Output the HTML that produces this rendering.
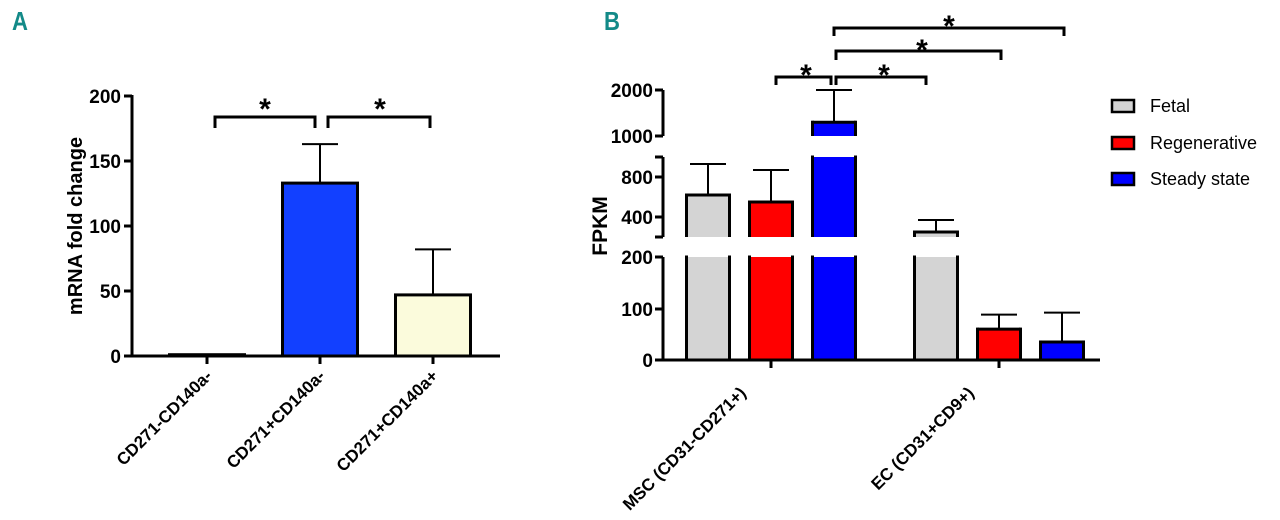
<!DOCTYPE html>
<html><head><meta charset="utf-8"><style>
html,body{margin:0;padding:0;background:#fff;width:1280px;height:520px;overflow:hidden}
svg text{font-family:"Liberation Sans",Arial,sans-serif;font-weight:bold}
</style></head><body>
<svg id="svg" width="1280" height="520" viewBox="0 0 1280 520" xmlns="http://www.w3.org/2000/svg">
<text x="12" y="30" font-size="26" fill="#138a88" transform="scale(0.85,1)" transform-origin="12 30">A</text>
<text x="604" y="30" font-size="26" fill="#138a88" transform="scale(0.85,1)" transform-origin="604 30">B</text>
<g id="gA"></g>
<g id="gB"></g>
</svg>
<script>
// Panel A data
const catsA = ["CD271-CD140a-","CD271+CD140a-","CD271+CD140a+"];
const valsA = [1, 133, 47];
const errA = [0, 163, 82];
const colorsA = ["#ffffff","#1240ff","#fbfbdc"];
const ticksA = [0,50,100,150,200];
// Panel B data
const groupsB = ["MSC (CD31-CD271+)","EC (CD31+CD9+)"];
const seriesB = ["Fetal","Regenerative","Steady state"];
const fetalB = [620, 250];
const regenB = [550, 60];
const steadyB = [1300, 35];
const fetalErrB = [930, 370];
const regenErrB = [870, 88];
const steadyErrB = [2000, 92];
const colorsB = ["#d4d4d4","#ff0000","#0000ff"];
const ticksB = [0,100,200,400,800,1000,2000];

const NS="http://www.w3.org/2000/svg";
function el(p,t,a){const e=document.createElementNS(NS,t);for(const k in a)e.setAttribute(k,a[k]);p.appendChild(e);return e;}

// ---------- Panel A ----------
const gA=document.getElementById('gA');
const yA=v=>356-v*1.3;
const xA0=132, stepA=113, firstA=207, bwA=75;
const xA=i=>firstA+i*stepA;
ticksA.forEach(t=>{
  const l=el(gA,'line',{x1:124,x2:xA0,y1:yA(t),y2:yA(t),stroke:'#000','stroke-width':3});
  
  
  const tx=el(gA,'text',{x:121,y:yA(t)+7,'font-size':19,'text-anchor':'end'});tx.textContent=t;
  
  
});
const yt=el(gA,'text',{x:0,y:0,'font-size':20,'text-anchor':'middle',transform:'translate(82,226) rotate(-90)'});yt.textContent='mRNA fold change';


catsA.forEach((c,i)=>{
  const x=xA(i);
  if(errA[i]>valsA[i]){
    const e1=el(gA,'line',{x1:x,x2:x,y1:yA(valsA[i]),y2:yA(errA[i]),stroke:'#000','stroke-width':2});
    
    
    el(gA,'line',{x1:x-18,x2:x+18,y1:yA(errA[i]),y2:yA(errA[i]),stroke:'#000','stroke-width':2});
  }
  const r=el(gA,'rect',{x:x-bwA/2,y:yA(valsA[i]),width:bwA,height:Math.max(yA(0)-yA(valsA[i]),0.5),fill:colorsA[i],stroke:'#000','stroke-width':3});
  
  
  el(gA,'line',{x1:x,x2:x,y1:356,y2:364,stroke:'#000','stroke-width':3});
  const t=el(gA,'text',{x:0,y:0,'font-size':17,'text-anchor':'end',transform:`translate(${x+6},377) rotate(-45)`});t.textContent=c;
  
  
});
el(gA,'line',{x1:xA0,x2:xA0,y1:yA(200)-1,y2:357.5,stroke:'#000','stroke-width':3});
el(gA,'line',{x1:xA0,x2:500,y1:356,y2:356,stroke:'#000','stroke-width':3});
function bracket(g,x1,x2,y,leg,sx,sy,name){
  const p=el(g,'path',{d:`M${x1},${y+leg}V${y}H${x2}V${y+leg}`,fill:'none',stroke:'#000','stroke-width':3});
  
  
  const s=el(g,'text',{x:sx,y:sy,'font-size':30,'text-anchor':'middle'});s.textContent='*';
  
  
}
bracket(gA,215,315,117,11,265,119,'bracket-a-1');
bracket(gA,328,430,117,11,380,119,'bracket-a-2');

// ---------- Panel B (broken axis) ----------
const gB=document.getElementById('gB');
const segs=[{lo:0,hi:200,y0:360,y1:257},{lo:200,hi:1000,y0:237,y1:157},{lo:1000,hi:2000,y0:136,y1:90}];
function yB(v,s){return s.y0-(v-s.lo)*(s.y0-s.y1)/(s.hi-s.lo);}
function segOf(v){for(const s of segs){if(v<=s.hi)return s;}return segs[2];}
function yAny(v){return yB(v,segOf(v));}
const xAxB=663, bwB=43;
const groupX=[771,999], off=[-63,0,63];
segs.forEach(s=>{
  const a=el(gB,'line',{x1:xAxB,x2:xAxB,y1:s.y1,y2:s.y0,stroke:'#000','stroke-width':3});
  
  
  el(gB,'line',{x1:xAxB-8,x2:xAxB,y1:s.y1,y2:s.y1,stroke:'#000','stroke-width':3});
  el(gB,'line',{x1:xAxB-8,x2:xAxB,y1:s.y0,y2:s.y0,stroke:'#000','stroke-width':3});
});
const labelY={0:360,100:309,200:257,400:217,800:177,1000:136,2000:90};
ticksB.forEach(t=>{
  const y=labelY[t];
  el(gB,'line',{x1:xAxB-8,x2:xAxB,y1:y,y2:y,stroke:'#000','stroke-width':3});
  const tx=el(gB,'text',{x:xAxB-10,y:y+7,'font-size':19,'text-anchor':'end'});tx.textContent=t;
  
  
});
const ytb=el(gB,'text',{x:0,y:0,'font-size':21,'text-anchor':'middle',transform:'translate(607,226) rotate(-90)'});ytb.textContent='FPKM';


const allV=[fetalB,regenB,steadyB], allE=[fetalErrB,regenErrB,steadyErrB];
groupsB.forEach((gname,gi)=>{
  allV.forEach((arr,si)=>{
    const v=arr[gi], e=allE[si][gi], cx=groupX[gi]+off[si];
    const x1=cx-bwB/2,x2=cx+bwB/2;
    const el1=el(gB,'line',{x1:cx,x2:cx,y1:yAny(v),y2:yAny(e),stroke:'#000','stroke-width':2});
    
    
    el(gB,'line',{x1:cx-18,x2:cx+18,y1:yAny(e),y2:yAny(e),stroke:'#000','stroke-width':2});
    segs.forEach(s=>{
      if(v<=s.lo)return;
      const top=Math.min(v,s.hi);
      const yb=s.y0, ytp=yB(top,s);
      const r=el(gB,'rect',{x:x1,y:ytp,width:bwB,height:yb-ytp,fill:colorsB[si]});
      
      
      el(gB,'line',{x1:x1,x2:x1,y1:ytp-1.5,y2:yb,stroke:'#000','stroke-width':3});
      el(gB,'line',{x1:x2,x2:x2,y1:ytp-1.5,y2:yb,stroke:'#000','stroke-width':3});
      if(v<=s.hi)el(gB,'line',{x1:x1,x2:x2,y1:ytp,y2:ytp,stroke:'#000','stroke-width':3});
    });
  });
  el(gB,'line',{x1:groupX[gi],x2:groupX[gi],y1:360,y2:368,stroke:'#000','stroke-width':3});
  const t=el(gB,'text',{x:0,y:0,'font-size':17,'text-anchor':'end',transform:`translate(${groupX[gi]-24},394) rotate(-45)`});t.textContent=gname;
  
  
});
el(gB,'line',{x1:xAxB,x2:1100,y1:360,y2:360,stroke:'#000','stroke-width':3});
bracket(gB,776,831,77,8,806,85,'bracket-b-1');
bracket(gB,836,926,77,8,884,85,'bracket-b-2');
bracket(gB,836,1001,51,9,922,60,'bracket-b-3');
bracket(gB,834,1064,28,8,949,36,'bracket-b-4');
// legend
const legY=[106,143,179];
seriesB.forEach((s,i)=>{
  const r=el(gB,'rect',{x:1112,y:legY[i]-6,width:22,height:12,fill:colorsB[i],stroke:'#000','stroke-width':2.5});
  
  
  const t=el(gB,'text',{x:1150,y:legY[i]+6,'font-size':18,style:'font-weight:normal'});t.textContent=s;
  
  
});
</script>
</body></html>
